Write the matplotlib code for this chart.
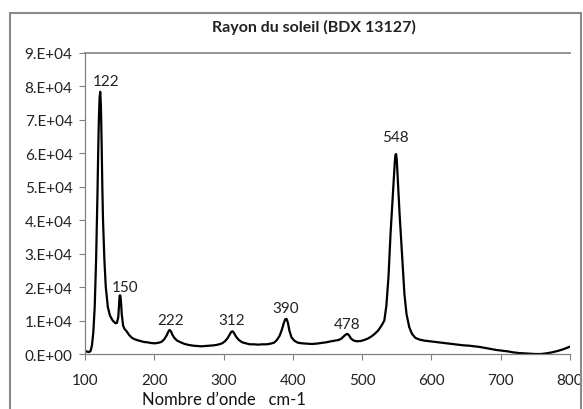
import numpy as np
import matplotlib
matplotlib.use('Agg')
import matplotlib.pyplot as plt
from matplotlib.ticker import FuncFormatter
from matplotlib.patches import Rectangle

plt.rcParams['font.family'] = ['Lato', 'DejaVu Sans']

# spectre Raman (nombre d'onde en cm-1, intensité)
nombre_onde = [100, 103, 106, 108, 110, 112, 114, 116, 118, 119, 120, 121, 122, 123, 124, 125, 126,
               128, 130, 133, 136, 140, 144, 146, 148, 149, 150, 151, 152, 153, 155, 157, 160, 164,
               168, 172, 176, 180, 185, 190, 195, 200, 205, 210, 214, 218, 220, 222, 224, 226, 229,
               233, 238, 244, 250, 256, 262, 268, 274, 280, 286, 292, 298, 302, 306, 309, 311, 313,
               315, 318, 322, 327, 332, 338, 344, 350, 356, 362, 368, 373, 377, 381, 384, 387, 389,
               391, 393, 395, 398, 402, 407, 413, 420, 427, 434, 441, 448, 455, 461, 466, 470, 474,
               477, 479, 481, 484, 488, 493, 498, 503, 508, 513, 518, 523, 528, 532, 535, 538, 541,
               543, 545, 547, 548, 549, 550, 552, 554, 556, 558, 561, 564, 568, 572, 577, 583, 590,
               598, 606, 614, 622, 630, 638, 646, 654, 662, 670, 678, 686, 694, 702, 710, 718, 726,
               734, 742, 750, 758, 766, 774, 782, 790, 796, 800]
intensite = [1000, 700, 600, 900, 2500, 6500, 14000, 28000, 48000, 60000, 70000, 76500, 78400,
             74000, 63000, 50000, 40000, 28000, 20000, 14000, 11500, 10000, 9200, 9300, 11000,
             14500, 17500, 17500, 15500, 12000, 8500, 7500, 6800, 5600, 4800, 4400, 4100, 3900,
             3600, 3500, 3300, 3200, 3300, 3600, 4300, 5600, 6600, 7200, 6800, 5800, 4800, 4000,
             3500, 3000, 2700, 2500, 2400, 2300, 2400, 2500, 2600, 2800, 3200, 3800, 4800, 5900,
             6600, 6800, 6300, 5200, 4200, 3500, 3200, 2900, 2900, 2800, 2900, 2900, 3100, 3400,
             4200, 5500, 7200, 9300, 10400, 10500, 9200, 7000, 5000, 4000, 3400, 3200, 3100, 3000,
             3100, 3300, 3500, 3800, 4000, 4200, 4600, 5400, 5900, 6000, 5600, 4600, 4000, 3800,
             3900, 4200, 4600, 5200, 6000, 7000, 8500, 10000, 14500, 23000, 36000, 43000, 50000,
             57000, 59500, 59800, 58000, 50000, 42000, 35000, 28000, 18000, 12000, 8000, 6000,
             4800, 4300, 4000, 3800, 3600, 3400, 3200, 3000, 2800, 2600, 2500, 2300, 2100, 1800,
             1500, 1200, 1000, 800, 500, 300, 200, 100, 0, 0, 200, 500, 900, 1400, 1900, 2200]

pics = [122, 150, 222, 312, 390, 478, 548]
# décalage des étiquettes (points)
decal_x = [4, 4, 1, 0, 0, 0, 0]
decal_y = [3, 1, 2, 3, 3, 2, 8]

fig = plt.figure(figsize=(5.83, 4.10), dpi=100)
ax = fig.add_axes([0.1458, 0.1341, 0.8319, 0.7342])

ax.plot(nombre_onde, intensite, color='black', linewidth=1.6)

for p, dx, dy in zip(pics, decal_x, decal_y):
    y = np.interp(p, nombre_onde, intensite)
    ax.annotate(str(p), (p, y), xytext=(dx, dy), textcoords='offset points',
                ha='center', va='bottom', fontsize=11, color='#222222')

ax.set_xlim(100, 800)
ax.set_ylim(0, 90000)
ax.set_xticks(np.arange(100, 801, 100))
ax.set_yticks(np.arange(0, 90001, 10000))


def fmt_sci(v, pos):
    if v == 0:
        return '0.E+00'
    e = int(np.floor(np.log10(v)))
    return f'{v / 10 ** e:.0f}.E+{e:02d}'


ax.yaxis.set_major_formatter(FuncFormatter(fmt_sci))
ax.tick_params(axis='both', direction='out', length=4, width=0.8, color='#808080',
               labelsize=11, labelcolor='#222222')
ax.tick_params(axis='y', pad=5)
ax.tick_params(axis='x', pad=10)

for s in ['top', 'right']:
    ax.spines[s].set_visible(False)
for s in ['left', 'bottom']:
    ax.spines[s].set_color('#808080')
    ax.spines[s].set_linewidth(0.9)
ax.axhline(90000, color='#808080', linewidth=1.2, clip_on=False)

fig.text(0.539, 0.932, 'Rayon du soleil (BDX 13127)', ha='center', va='center',
         fontsize=11.5, fontweight='bold', color='#222222')
fig.text(0.2436, 0.024, 'Nombre d\u2019onde   cm-1', ha='left', va='center',
         fontsize=12, color='#111111')

# cadre extérieur du graphique
fig.patches.append(Rectangle((0.017, -0.1), 0.98, 1.066, transform=fig.transFigure,
                             fill=False, edgecolor='#8a8a8a', linewidth=1.5))

fig.savefig('out.png', dpi=100)
